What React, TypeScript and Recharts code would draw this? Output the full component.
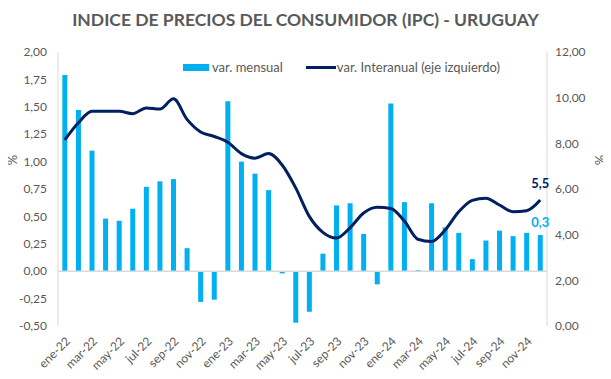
import React from 'react';
import {
  ComposedChart,
  Bar,
  Line,
  XAxis,
  YAxis,
  ReferenceLine,
  LabelList,
} from 'recharts';

const months = [
  'ene-22', 'feb-22', 'mar-22', 'abr-22', 'may-22', 'jun-22', 'jul-22', 'ago-22', 'sep-22', 'oct-22', 'nov-22', 'dic-22',
  'ene-23', 'feb-23', 'mar-23', 'abr-23', 'may-23', 'jun-23', 'jul-23', 'ago-23', 'sep-23', 'oct-23', 'nov-23', 'dic-23',
  'ene-24', 'feb-24', 'mar-24', 'abr-24', 'may-24', 'jun-24', 'jul-24', 'ago-24', 'sep-24', 'oct-24', 'nov-24', 'dic-24',
];

const mensual = [
  1.79, 1.47, 1.10, 0.48, 0.46, 0.57, 0.77, 0.82, 0.84, 0.21, -0.28, -0.26,
  1.55, 1.00, 0.89, 0.74, -0.02, -0.47, -0.37, 0.16, 0.60, 0.62, 0.34, -0.12,
  1.53, 0.63, 0.01, 0.62, 0.40, 0.35, 0.11, 0.28, 0.37, 0.32, 0.35, 0.33,
];

const interanual = [
  8.15, 8.9, 9.4, 9.4, 9.4, 9.3, 9.55, 9.5, 9.95, 9.05, 8.5, 8.3,
  8.05, 7.55, 7.35, 7.55, 7.05, 6.05, 4.8, 4.1, 3.85, 4.3, 4.95, 5.2,
  5.15, 4.6, 3.8, 3.7, 4.2, 5.0, 5.5, 5.6, 5.3, 5.0, 5.05, 5.52,
];

const leftTicks = [-0.5, -0.25, 0, 0.25, 0.5, 0.75, 1, 1.25, 1.5, 1.75, 2];
const rightTicks = [0, 2, 4, 6, 8, 10, 12];

const data = months.map((m, i) => ({ month: m, mensual: mensual[i], interanual: interanual[i] }));

const FONT = 'Lato, "Open Sans", sans-serif';
const GRAY = '#595959';
const BLUE = '#00B0F0';
const NAVY = '#002060';

const fmt2 = (v: number) => v.toFixed(2).replace('.', ',');
const fmt1 = (v: number) => v.toFixed(1).replace('.', ',');

const lastLabel = (color: string, dy: number) => (props: any) => {
  const { x, y, width, value, index } = props;
  if (index !== data.length - 1) return null;
  const cx = width ? x + width / 2 : x;
  return (
    <text x={cx} y={y - dy} textAnchor="middle" fill={color} fontSize={13} fontWeight={700} fontFamily={FONT}>
      {fmt1(value)}
    </text>
  );
};

const pctStyle = (left: number): React.CSSProperties => ({
  position: 'absolute',
  top: 144,
  left,
  width: 16,
  height: 16,
  lineHeight: '16px',
  textAlign: 'center',
  fontSize: 13,
  color: GRAY,
  transform: 'rotate(-90deg)',
});

export default function App() {
  return (
    <div style={{ position: 'relative', width: 595, height: 371, fontFamily: FONT, background: '#fff' }}>
      <div
        style={{
          position: 'absolute',
          top: 1,
          left: 0,
          width: 595,
          textAlign: 'center',
          fontSize: 17.5,
          fontWeight: 700,
          color: GRAY,
        }}
      >
        INDICE DE PRECIOS DEL CONSUMIDOR (IPC) - URUGUAY
      </div>
      <div
        style={{
          position: 'absolute',
          top: 51,
          left: 175,
          display: 'flex',
          alignItems: 'center',
          fontSize: 13,
          lineHeight: '16px',
          color: GRAY,
          zIndex: 2,
        }}
      >
        <span style={{ display: 'inline-block', width: 26, height: 7, background: BLUE, marginRight: 3 }} />
        <span style={{ marginRight: 23 }}>var. mensual</span>
        <span style={{ display: 'inline-block', width: 30, height: 3, background: NAVY, marginRight: 1 }} />
        <span>var. Interanual (eje izquierdo)</span>
      </div>
      <div style={pctStyle(-4)}>%</div>
      <div style={pctStyle(584)}>%</div>
      <ComposedChart
        width={595}
        height={371}
        data={data}
        margin={{ top: 44, right: 0, bottom: 0, left: 0 }}
        barCategoryGap="32%"
      >
        <XAxis
          dataKey="month"
          interval={1}
          axisLine={false}
          tickLine={false}
          height={53}
          tickMargin={4}
          tick={{ fill: GRAY, fontSize: 12, fontFamily: FONT, angle: -45, textAnchor: 'end' }}
        />
        <YAxis
          yAxisId="left"
          orientation="left"
          width={50}
          domain={[-0.5, 2]}
          ticks={leftTicks}
          tickFormatter={fmt2}
          axisLine={{ stroke: '#d9d9d9' }}
          tickLine={false}
          tickMargin={5}
          tick={{ fill: GRAY, fontSize: 12, fontFamily: FONT }}
        />
        <YAxis
          yAxisId="right"
          orientation="right"
          width={56}
          domain={[0, 12]}
          ticks={rightTicks}
          tickFormatter={fmt2}
          axisLine={{ stroke: '#d9d9d9' }}
          tickLine={false}
          tick={{ fill: GRAY, fontSize: 12, fontFamily: FONT, textAnchor: 'start' }}
        />
        <ReferenceLine yAxisId="left" y={0} stroke="#d9d9d9" strokeWidth={1.5} />
        <Bar yAxisId="left" dataKey="mensual" fill={BLUE} isAnimationActive={false}>
          <LabelList dataKey="mensual" content={lastLabel(BLUE, 8)} />
        </Bar>
        <Line
          yAxisId="right"
          dataKey="interanual"
          type="monotone"
          stroke={NAVY}
          strokeWidth={3}
          dot={false}
          isAnimationActive={false}
        >
          <LabelList dataKey="interanual" content={lastLabel(NAVY, 12)} />
        </Line>
      </ComposedChart>
    </div>
  );
}
